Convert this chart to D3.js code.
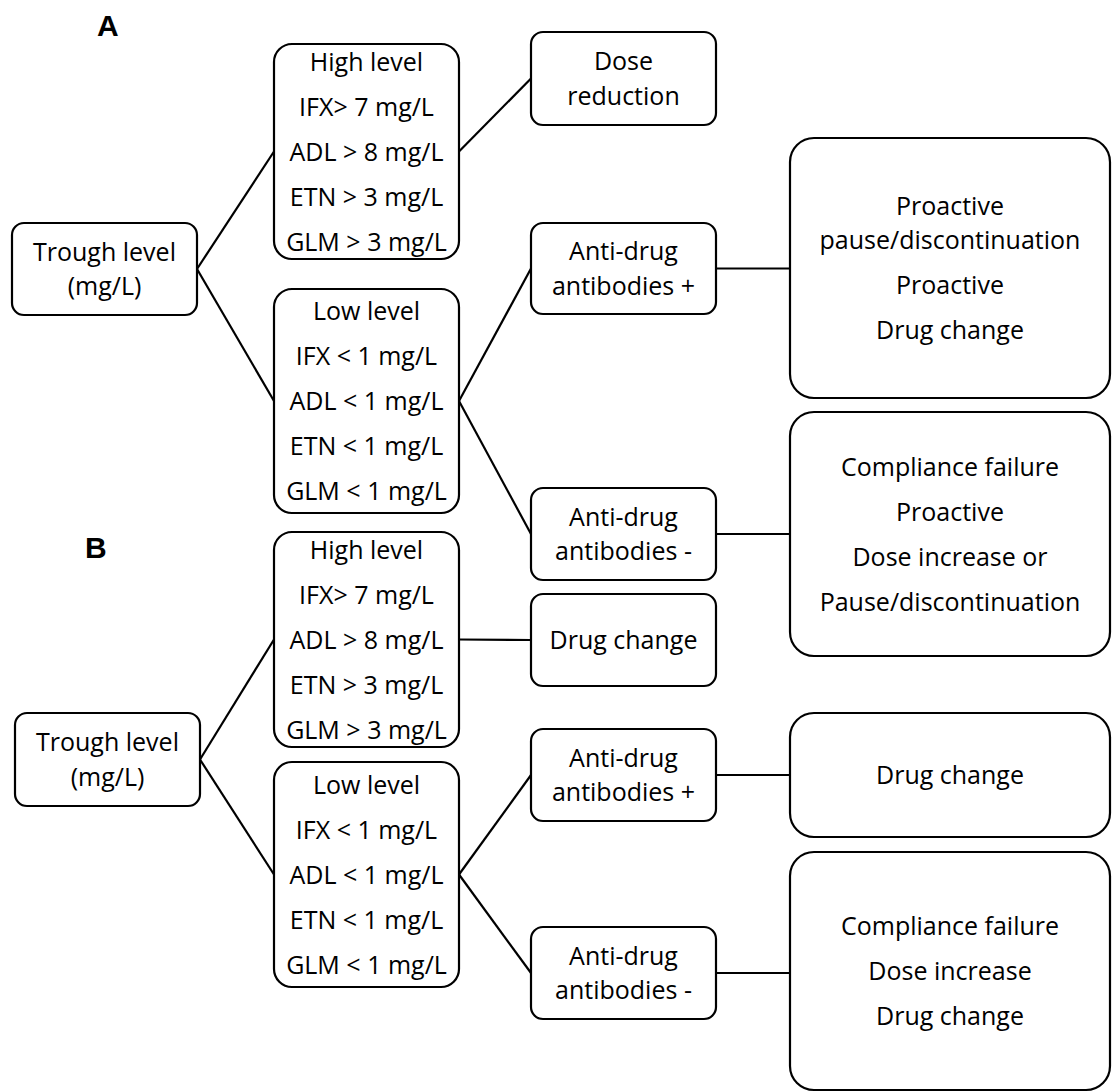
<!DOCTYPE html>
<html>
<head>
<meta charset="utf-8">
<script src="https://cdn.jsdelivr.net/npm/d3@7"></script>
<style>
  body { margin: 0; background: #fff; }
  svg text { font-family: "Open Sans", sans-serif; fill: #000; }
  .box { fill: #fff; stroke: #000; stroke-width: 2.2; }
  .link { stroke: #000; stroke-width: 2.2; fill: none; }
  .panel-label { font-family: "Liberation Sans", Arial, sans-serif; font-weight: bold; font-size: 30px; }
</style>
</head>
<body>
<svg id="chart" width="1112" height="1092"></svg>
<script>
// text of each box: list of paragraphs, each paragraph a list of wrapped lines
const panelLabels = ["A", "B"];
const troughText = [["Trough level", "(mg/L)"]];
const highText = [["High level"], ["IFX> 7 mg/L"], ["ADL > 8 mg/L"], ["ETN > 3 mg/L"], ["GLM > 3 mg/L"]];
const lowText = [["Low level"], ["IFX < 1 mg/L"], ["ADL < 1 mg/L"], ["ETN < 1 mg/L"], ["GLM < 1 mg/L"]];
const adaPosText = [["Anti-drug", "antibodies +"]];
const adaNegText = [["Anti-drug", "antibodies -"]];
const highActionA = [["Dose", "reduction"]];
const highActionB = [["Drug change"]];
const outPosA = [["Proactive", "pause/discontinuation"], ["Proactive"], ["Drug change"]];
const outNegA = [["Compliance failure"], ["Proactive"], ["Dose increase or"], ["Pause/discontinuation"]];
const outPosB = [["Drug change"]];
const outNegB = [["Compliance failure"], ["Dose increase"], ["Drug change"]];

const panels = [
  { label: panelLabels[0], nodes: { root: troughText, high: highText, low: lowText, highAct: highActionA, adaPos: adaPosText, adaNeg: adaNegText, outPos: outPosA, outNeg: outNegA } },
  { label: panelLabels[1], nodes: { root: troughText, high: highText, low: lowText, highAct: highActionB, adaPos: adaPosText, adaNeg: adaNegText, outPos: outPosB, outNeg: outNegB } }
];
const links = [["root", "high"], ["root", "low"], ["high", "highAct"], ["low", "adaPos"], ["low", "adaNeg"], ["adaPos", "outPos"], ["adaNeg", "outNeg"]];

// layout: column of each node and its vertical extent in the page
const column = { root: 0, high: 1, low: 1, highAct: 2, adaPos: 2, adaNeg: 2, outPos: 3, outNeg: 3 };
const colLeft = d3.scaleOrdinal().domain([0, 1, 2, 3]).range([12, 274, 531, 790]);
const colWidth = d3.scaleOrdinal().domain([0, 1, 2, 3]).range([185, 185, 185, 320]);
const radius = d3.scaleOrdinal().domain([0, 1, 2, 3]).range([12, 18, 12, 24]);
const layout = [
  { labelX: 97, labelY: 36, rootShift: 0,
    y: { root: [223, 315], high: [44, 259], low: [289, 513], highAct: [32, 125], adaPos: [223, 314], adaNeg: [488, 580], outPos: [138, 398], outNeg: [412, 656] } },
  { labelX: 85, labelY: 558, rootShift: 3,
    y: { root: [713, 806], high: [532, 747], low: [762, 987], highAct: [594, 686], adaPos: [729, 821], adaNeg: [927, 1019], outPos: [713, 837], outNeg: [852, 1090] } }
];
const lineGap = 34.5, paraGap = 45;

var svg = d3.select("#chart");

panels.forEach(function(panel, p) {
  let lay = layout[p];
  var g = svg.append("g");

  function box(id) {
    let c = column[id];
    let x0 = colLeft(c) + (id === "root" ? lay.rootShift : 0);
    return { x0: x0, x1: x0 + colWidth(c), y0: lay.y[id][0], y1: lay.y[id][1], r: radius(c) };
  }

  // connectors, drawn first so boxes sit on top
  g.selectAll("line")
    .data(links)
    .enter()
    .append("line")
    .attr("class", "link")
    .attr("x1", function(d) { return box(d[0]).x1; })
    .attr("y1", function(d) { let b = box(d[0]); return (b.y0 + b.y1) / 2; })
    .attr("x2", function(d) { return box(d[1]).x0; })
    .attr("y2", function(d) {
      let b = box(d[1]);
      // horizontal connectors take the source height
      if (d[0] === "adaPos" || d[0] === "adaNeg") { let s = box(d[0]); return (s.y0 + s.y1) / 2; }
      return (b.y0 + b.y1) / 2;
    });

  var ids = Object.keys(panel.nodes);
  var nodes = g.selectAll("g.node")
    .data(ids)
    .enter()
    .append("g")
    .attr("class", "node");

  nodes.append("rect")
    .attr("class", "box")
    .attr("x", function(d) { return box(d).x0; })
    .attr("y", function(d) { return box(d).y0; })
    .attr("width", function(d) { let b = box(d); return b.x1 - b.x0; })
    .attr("height", function(d) { let b = box(d); return b.y1 - b.y0; })
    .attr("rx", function(d) { return box(d).r; })
    .attr("ry", function(d) { return box(d).r; });

  nodes.each(function(id) {
    let b = box(id);
    let paras = panel.nodes[id];
    let ys = [];
    let y = 0;
    paras.forEach(function(para, i) {
      if (i > 0) y += paraGap;
      para.forEach(function(line, j) {
        if (j > 0) y += lineGap;
        ys.push({ text: line, y: y });
      });
    });
    let off = (b.y0 + b.y1) / 2 - y / 2;
    d3.select(this).selectAll("text")
      .data(ys)
      .enter()
      .append("text")
      .attr("x", (b.x0 + b.x1) / 2)
      .attr("y", function(d) { return off + d.y; })
      .attr("dy", "0.36em")
      .attr("text-anchor", "middle")
      .style("font-size", "25px")
      .text(function(d) { return d.text; });
  });

  g.append("text")
    .attr("class", "panel-label")
    .attr("x", lay.labelX)
    .attr("y", lay.labelY)
    .text(panel.label);
});
</script>
</body>
</html>
